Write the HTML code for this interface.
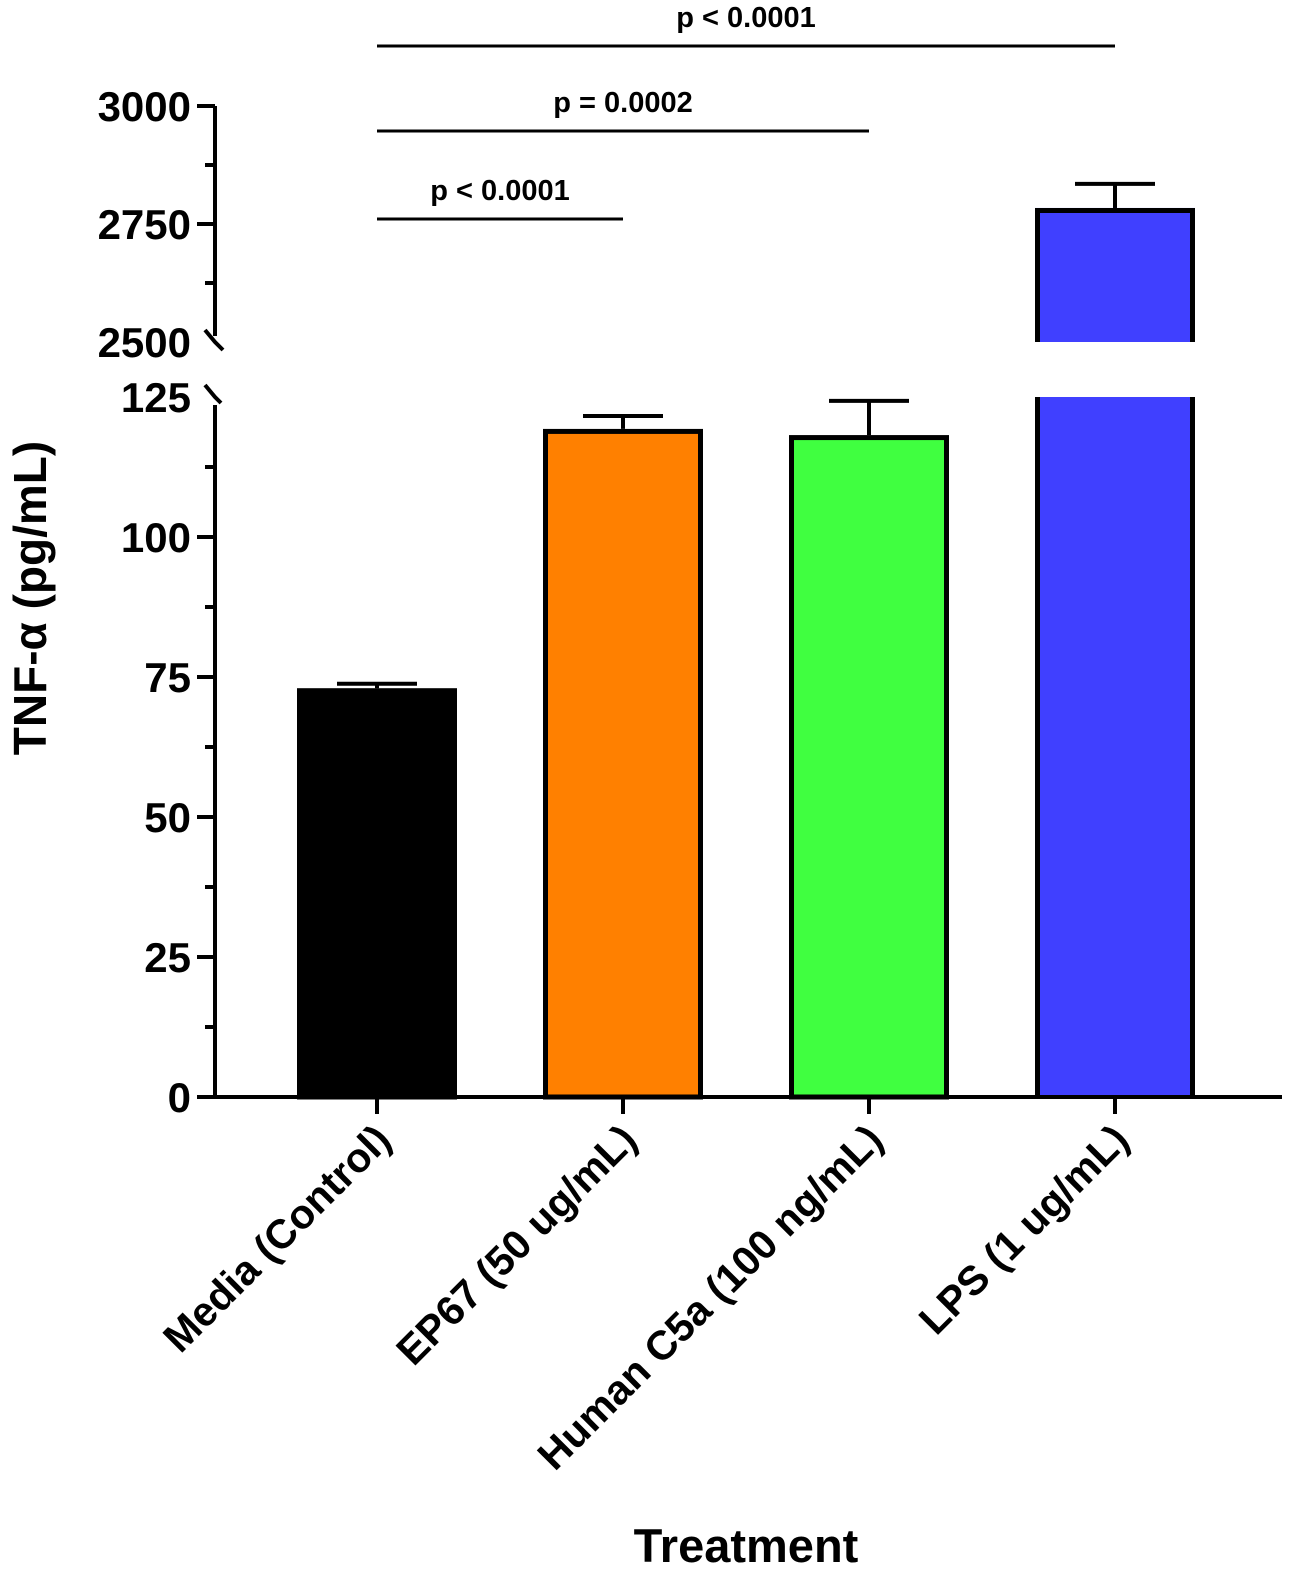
<!DOCTYPE html>
<html><head><meta charset="utf-8"><style>
html,body{margin:0;padding:0;background:#fff;}
svg{display:block;font-family:"Liberation Sans",Arial,sans-serif;font-weight:bold;}
</style></head><body>
<svg id="chart" width="1307" height="1591" viewBox="0 0 1307 1591"></svg>
<script>
const categories = ["Media (Control)", "EP67 (50 ug/mL)", "Human C5a (100 ng/mL)", "LPS (1 ug/mL)"];
const means = [73, 119.3, 118.2, 2784];
const errors = [0.8, 2.3, 6.1, 51];
const colors = ["#000000", "#ff8000", "#40ff40", "#4040ff"];
const lowerTicks = [0, 25, 50, 75, 100, 125];
const upperTicks = [2500, 2750, 3000];
const comparisons = [["p < 0.0001", 0, 1], ["p = 0.0002", 0, 2], ["p < 0.0001", 0, 3]];

const NS = "http://www.w3.org/2000/svg";
const svg = document.getElementById("chart");
function mk(tag, attrs, parent) {
  const e = document.createElementNS(NS, tag);
  for (const k in attrs) e.setAttribute(k, attrs[k]);
  (parent || svg).appendChild(e);
  return e;
}
const AX = 215, Y0 = 1097;
function yLow(v) { return Y0 - v * 5.6; }
function yUp(v) { return 342 - (v - 2500) * 0.472; }
function y(v) { return v > 125 ? yUp(v) : yLow(v); }
function xC(i) { return 377 + i * 246; }
const BW = 160;

categories.forEach((c, i) => {
  const x = xC(i) - BW / 2;
  const v = means[i];
  const g = mk("g", {});
  
  
  const top = y(v + errors[i]);
  const eb = mk("path", {d: `M${xC(i)} ${y(v)} V${top} M${xC(i) - 40} ${top} H${xC(i) + 40}`, stroke: "#000", "stroke-width": 4, fill: "none"}, g);
  
  
  if (v > 125) {
    mk("rect", {x: x, y: yLow(125), width: BW, height: Y0 - yLow(125), fill: colors[i]}, g);
    mk("rect", {x: x, y: y(v), width: BW, height: 342 - y(v), fill: colors[i]}, g);
    mk("path", {d: `M${x + 2.5} ${342} V${y(v) + 2.5} H${x + BW - 2.5} V342 M${x + 2.5} ${yLow(125)} V${Y0} M${x + BW - 2.5} ${yLow(125)} V${Y0}`, stroke: "#000", "stroke-width": 5, fill: "none"}, g);
  } else {
    mk("rect", {x: x + 2.5, y: y(v) + 2.5, width: BW - 5, height: Y0 - y(v) - 2.5, fill: colors[i], stroke: "#000", "stroke-width": 5}, g);
  }
});

const ya = mk("g", {stroke: "#000", "stroke-width": 4, fill: "none"});


mk("path", {d: `M${AX} ${Y0} V${yLow(125) + 8} M${AX} ${yUp(3000)} V${342 - 6}`}, ya);
mk("path", {d: `M${AX - 10} ${yLow(125) - 12} L${AX} ${yLow(125)} L${AX + 6} ${yLow(125) + 6} M${AX - 10} 330 L${AX} 342 L${AX + 8} 350`}, ya);
for (let v = 0; v <= 125; v += 12.5) {
  const major = v % 25 === 0;
  if (v === 125) continue;
  mk("line", {x1: AX - (major ? 18 : 10), x2: AX, y1: yLow(v), y2: yLow(v)}, ya);
}
for (let v = 2625; v <= 3000; v += 125) {
  const major = v % 250 === 0;
  mk("line", {x1: AX - (major ? 18 : 10), x2: AX, y1: yUp(v), y2: yUp(v)}, ya);
}
lowerTicks.forEach(v => {
  const t = mk("text", {x: AX - 24, y: yLow(v) + 15, "text-anchor": "end", "font-size": 42});
  t.textContent = v;
  
  
});
upperTicks.forEach(v => {
  const t = mk("text", {x: AX - 24, y: yUp(v) + 15, "text-anchor": "end", "font-size": 42});
  t.textContent = v;
  
  
});
const yt = mk("text", {x: 0, y: 0, transform: "translate(46,598) rotate(-90)", "text-anchor": "middle", "font-size": 46});
yt.textContent = "TNF-α (pg/mL)";



const xa = mk("g", {stroke: "#000", "stroke-width": 4});


mk("line", {x1: AX - 18, x2: 1282, y1: Y0, y2: Y0}, xa);
categories.forEach((c, i) => {
  mk("line", {x1: xC(i), x2: xC(i), y1: Y0, y2: 1114}, xa);
  const t = mk("text", {x: 0, y: 0, transform: `translate(${xC(i) + 16},${1142}) rotate(-45)`, "text-anchor": "end", "font-size": 41});
  t.textContent = c;
  
  
});
const xt = mk("text", {x: 746, y: 1562, "text-anchor": "middle", "font-size": 47});
xt.textContent = "Treatment";



const sigY = [219, 131, 46];
comparisons.forEach((c, k) => {
  const g = mk("g", {});
  
  
  mk("line", {x1: xC(c[1]), x2: xC(c[2]), y1: sigY[k], y2: sigY[k], stroke: "#000", "stroke-width": 3}, g);
  const t = mk("text", {x: (xC(c[1]) + xC(c[2])) / 2, y: sigY[k] - 19, "text-anchor": "middle", "font-size": 29}, g);
  t.textContent = c[0];
});
</script>
</body></html>
